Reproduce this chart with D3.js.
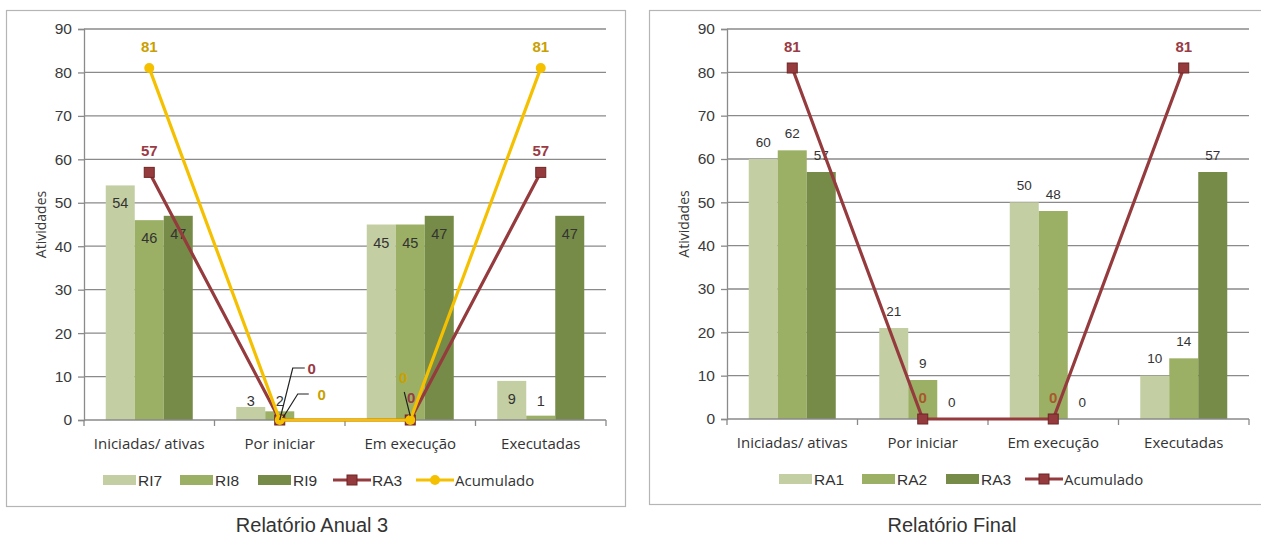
<!DOCTYPE html>
<html>
<head>
<meta charset="utf-8">
<script src="https://cdn.jsdelivr.net/npm/d3@7"></script>
<style>
  html, body { margin: 0; padding: 0; background: #fff; }
  svg { display: block; }
</style>
</head>
<body>
<svg id="chart" width="1261" height="538"></svg>
<script>
// Shared categories and axis ticks
const categories = ["Iniciadas/ ativas", "Por iniciar", "Em execução", "Executadas"];
const yTicks = [0, 10, 20, 30, 40, 50, 60, 70, 80, 90];

// Relatório Anual 3
const annualBarKeys = ["RI7", "RI8", "RI9"];
const ri7 = [54, 3, 45, 9];
const ri8 = [46, 2, 45, 1];
const ri9 = [47, 0, 47, 47];
const annualRA3 = [57, 0, 0, 57];
const annualAcumulado = [81, 0, 0, 81];

// Relatório Final
const finalBarKeys = ["RA1", "RA2", "RA3"];
const ra1 = [60, 21, 50, 10];
const ra2 = [62, 9, 48, 14];
const ra3 = [57, 0, 0, 57];
const finalAcumulado = [81, 0, 0, 81];

const barColors = ["#c3cfa2", "#9bb064", "#768b47"];
const maroon = "#953b3d";
const gold = "#f5c000";

const svg = d3.select("#chart");

function drawChart(cfg) {
  const g = svg.append("g");

  // frame
  g.append("rect")
    .attr("x", cfg.frame[0] + 0.5).attr("y", cfg.frame[1] + 0.5)
    .attr("width", cfg.frame[2]).attr("height", cfg.frame[3])
    .attr("fill", "#fff").attr("stroke", "#b5b5b5").attr("stroke-width", 1.2);

  const y = d3.scaleLinear().domain([0, 90]).range([cfg.y0, cfg.y90]);
  const x0 = d3.scaleBand().domain(categories).range([cfg.xl, cfg.xr]).padding(0);
  const bw = x0.bandwidth();
  const x1 = d3.scaleBand().domain(cfg.barKeys).range([bw / 6, bw * 5 / 6]).padding(0);

  // gridlines
  g.append("g").selectAll("line").data(yTicks.filter(d => d > 0)).join("line")
    .attr("x1", cfg.xl).attr("x2", cfg.xr)
    .attr("y1", d => y(d)).attr("y2", d => y(d))
    .attr("stroke", "#8a8a8a").attr("stroke-width", 1.3);

  // y axis
  const yAxis = d3.axisLeft(y).tickValues(yTicks).tickSize(6).tickPadding(6);
  const ya = g.append("g").attr("transform", `translate(${cfg.xl},0)`).call(yAxis);
  ya.select(".domain").attr("stroke", "#8a8a8a").attr("stroke-width", 1.3);
  ya.selectAll(".tick line").attr("stroke", "#8a8a8a").attr("stroke-width", 1.3);
  ya.selectAll(".tick text")
    .attr("font-family", "'Liberation Sans', Arial, sans-serif")
    .attr("font-size", 15.5).attr("fill", "#3a3a3a");

  // y axis title
  g.append("text")
    .attr("transform", `translate(${cfg.titleX},${(cfg.y0 + cfg.y90) / 2}) rotate(-90)`)
    .attr("text-anchor", "middle").attr("dominant-baseline", "central")
    .attr("font-family", "'Open Sans', sans-serif").attr("font-size", 14)
    .attr("fill", "#3a3a3a").text("Atividades");

  // bars
  const bars = g.append("g");
  cfg.barSeries.forEach((vals, si) => {
    bars.selectAll(null).data(vals.map((v, i) => ({ v, c: categories[i] }))).join("rect")
      .attr("x", d => x0(d.c) + x1(cfg.barKeys[si]))
      .attr("y", d => y(d.v))
      .attr("width", x1.bandwidth())
      .attr("height", d => y(0) - y(d.v))
      .attr("fill", barColors[si]);
  });

  // x axis
  const xa = g.append("g").attr("transform", `translate(0,${cfg.y0})`);
  xa.append("line").attr("x1", cfg.xl).attr("x2", cfg.xr)
    .attr("stroke", "#8a8a8a").attr("stroke-width", 1.3);
  xa.selectAll("line.tk").data(d3.range(categories.length + 1)).join("line")
    .attr("class", "tk")
    .attr("x1", i => cfg.xl + i * bw).attr("x2", i => cfg.xl + i * bw)
    .attr("y1", 0).attr("y2", 6)
    .attr("stroke", "#8a8a8a").attr("stroke-width", 1.3);
  xa.selectAll("text").data(categories).join("text")
    .attr("x", d => x0(d) + bw / 2).attr("y", 23)
    .attr("text-anchor", "middle").attr("dominant-baseline", "central")
    .attr("font-family", "'Open Sans', sans-serif").attr("font-size", 15)
    .attr("fill", "#333").text(d => d);

  // bar value labels
  const bl = g.append("g");
  cfg.barSeries.forEach((vals, si) => {
    bl.selectAll(null)
      .data(vals.map((v, i) => ({ v, c: categories[i] })).filter(d => cfg.showZeroBars || d.v > 0))
      .join("text")
      .attr("x", d => x0(d.c) + x1(cfg.barKeys[si]) + x1.bandwidth() / 2)
      .attr("y", d => cfg.barLabelY(y, d.v))
      .attr("text-anchor", "middle").attr("dominant-baseline", "central")
      .attr("font-family", "'Liberation Sans', Arial, sans-serif")
      .attr("font-size", cfg.barLabelSize).attr("fill", "#333")
      .text(d => d.v);
  });

  // line series
  const cx = c => x0(c) + bw / 2;
  cfg.lines.forEach(ls => {
    const pts = ls.values.map((v, i) => ({ v, c: categories[i], i }));
    const line = d3.line().x(d => cx(d.c)).y(d => y(d.v));
    g.append("path").datum(pts).attr("d", line)
      .attr("fill", "none").attr("stroke", ls.color).attr("stroke-width", 3.2)
      .attr("stroke-linejoin", "round");
    if (ls.marker === "circle") {
      g.selectAll(null).data(pts).join("circle")
        .attr("cx", d => cx(d.c)).attr("cy", d => y(d.v)).attr("r", 5)
        .attr("fill", ls.color);
    } else {
      g.selectAll(null).data(pts).join("rect")
        .attr("x", d => cx(d.c) - 5).attr("y", d => y(d.v) - 5)
        .attr("width", 10).attr("height", 10)
        .attr("fill", ls.color).attr("stroke", "#6e2526").attr("stroke-width", 1);
    }
  });

  // line value labels (with leader lines where they were moved)
  cfg.lines.forEach(ls => {
    ls.values.forEach((v, i) => {
      const px = cx(categories[i]), py = y(v);
      const off = ls.labelOffsets[i];
      const lx = px + off[0], ly = py + off[1];
      if (off[2]) {
        g.append("path")
          .attr("d", d3.line()(off[2].map(p => [px + p[0], py + p[1]])))
          .attr("fill", "none").attr("stroke", "#222").attr("stroke-width", 1.2);
      }
      g.append("text")
        .attr("x", lx).attr("y", ly)
        .attr("text-anchor", "middle").attr("dominant-baseline", "central")
        .attr("font-family", "'Liberation Sans', Arial, sans-serif")
        .attr("font-weight", "bold").attr("font-size", 15)
        .attr("fill", (v === 0 && ls.zeroLabelColor) ? ls.zeroLabelColor : ls.labelColor)
        .text(v);
    });
  });

  // legend
  const lg = g.append("g").attr("font-family", "'Liberation Sans', Arial, sans-serif")
    .attr("font-size", 15.5).attr("fill", "#333");
  cfg.legend.forEach(item => {
    if (item.type === "bar") {
      lg.append("rect").attr("x", item.x).attr("y", cfg.legendY - 5)
        .attr("width", 33).attr("height", 10).attr("fill", barColors[item.idx]);
      lg.append("text").attr("x", item.x + 35).attr("y", cfg.legendY)
        .attr("dominant-baseline", "central").text(item.label);
    } else {
      const ls = cfg.lines[item.idx];
      lg.append("line").attr("x1", item.x).attr("x2", item.x + 38)
        .attr("y1", cfg.legendY).attr("y2", cfg.legendY)
        .attr("stroke", ls.color).attr("stroke-width", 3.2);
      if (ls.marker === "circle") {
        lg.append("circle").attr("cx", item.x + 19).attr("cy", cfg.legendY).attr("r", 5)
          .attr("fill", ls.color);
      } else {
        lg.append("rect").attr("x", item.x + 14).attr("y", cfg.legendY - 5)
          .attr("width", 10).attr("height", 10)
          .attr("fill", ls.color).attr("stroke", "#6e2526").attr("stroke-width", 1);
      }
      lg.append("text").attr("x", item.x + 39).attr("y", cfg.legendY)
        .attr("dominant-baseline", "central")
        .attr("font-family", item.font || null)
        .attr("font-size", item.font ? 15 : null)
        .text(item.label);
    }
  });

  // caption below the frame
  svg.append("text")
    .attr("x", cfg.captionX).attr("y", 525)
    .attr("text-anchor", "middle").attr("dominant-baseline", "central")
    .attr("font-family", "'Liberation Sans', Arial, sans-serif")
    .attr("font-size", 20).attr("fill", "#333")
    .text(cfg.caption);
}

drawChart({
  frame: [6, 10, 619, 496],
  xl: 84, xr: 606, y0: 420, y90: 29,
  titleX: 40,
  barKeys: annualBarKeys,
  barSeries: [ri7, ri8, ri9],
  showZeroBars: false,
  barLabelSize: 14.5,
  barLabelY: (y, v) => Math.min(y(v) + 18, y(0) - 19),
  lines: [
    {
      values: annualRA3, color: maroon, labelColor: "#9a3a44", marker: "square",
      labelOffsets: [
        [0, -22],
        [32, -52, [[0, 0], [13, -52], [25, -52]]],
        [1, -23],
        [0, -22]
      ]
    },
    {
      values: annualAcumulado, color: gold, labelColor: "#c9a000", marker: "circle",
      labelOffsets: [
        [0, -22],
        [42, -26, [[3, -2], [18, -26], [29, -26]]],
        [-7, -43, [[0, -4], [-6, -28]]],
        [0, -22]
      ]
    }
  ],
  legendY: 480,
  legend: [
    { type: "bar", idx: 0, label: "RI7", x: 103 },
    { type: "bar", idx: 1, label: "RI8", x: 180 },
    { type: "bar", idx: 2, label: "RI9", x: 258 },
    { type: "line", idx: 0, label: "RA3", x: 333 },
    { type: "line", idx: 1, label: "Acumulado", x: 416, font: "'Open Sans', sans-serif" }
  ],
  captionX: 312,
  caption: "Relatório Anual 3"
});

drawChart({
  frame: [649, 10, 620, 494],
  xl: 727, xr: 1249, y0: 419, y90: 29,
  titleX: 683,
  barKeys: finalBarKeys,
  barSeries: [ra1, ra2, ra3],
  showZeroBars: true,
  barLabelSize: 13.5,
  barLabelY: (y, v) => y(v) - 17,
  lines: [
    {
      values: finalAcumulado, color: maroon, labelColor: "#9a3a44", zeroLabelColor: "#a8582c",
      marker: "square",
      labelOffsets: [[0, -22], [0, -22], [0, -22], [0, -22]]
    }
  ],
  legendY: 479,
  legend: [
    { type: "bar", idx: 0, label: "RA1", x: 779 },
    { type: "bar", idx: 1, label: "RA2", x: 862 },
    { type: "bar", idx: 2, label: "RA3", x: 946 },
    { type: "line", idx: 0, label: "Acumulado", x: 1025, font: "'Open Sans', sans-serif" }
  ],
  captionX: 952,
  caption: "Relatório Final"
});
</script>
</body>
</html>
